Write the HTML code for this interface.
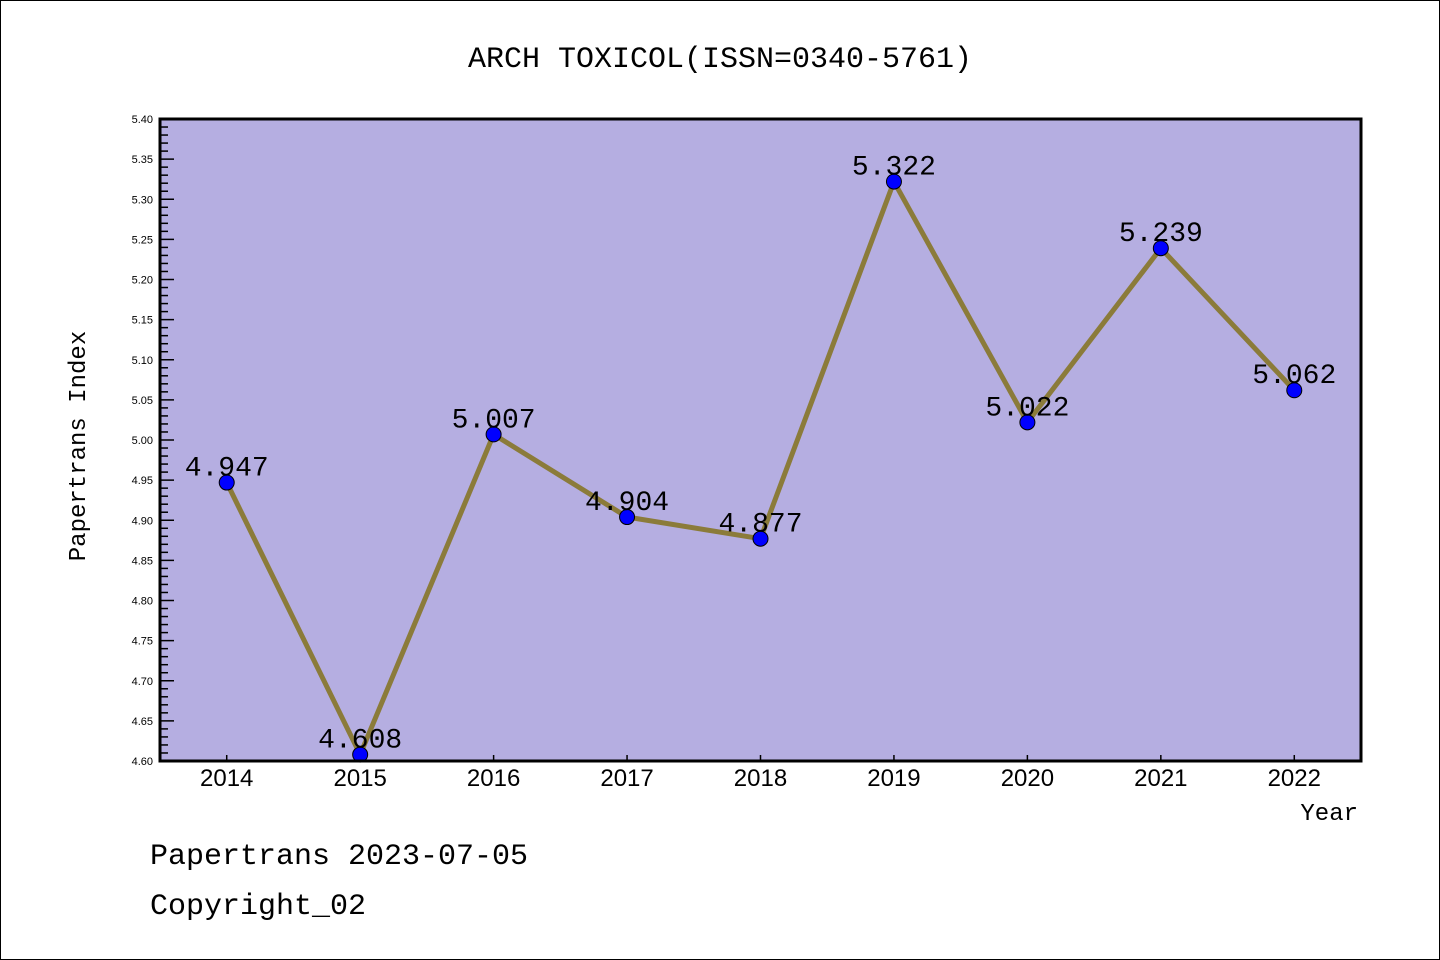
<!DOCTYPE html>
<html><head><meta charset="utf-8"><style>
body{margin:0;background:#fff;}
svg{display:block;font-family:"Liberation Sans","WenQuanYi Zen Hei",sans-serif;}
</style></head><body>
<svg id="chart" width="1440" height="960">
<rect x="0.5" y="0.5" width="1439" height="959" fill="#fff" stroke="#000"/>
<text x="720" y="67" text-anchor="middle" font-size="30" font-family="'WenQuanYi Zen Hei','Liberation Mono',monospace">ARCH TOXICOL(ISSN=0340-5761)</text>
<rect x="160" y="119" width="1201" height="642" fill="#b5aee1"/>
<g id="axes"></g>
<g id="series"></g>
<rect x="160" y="119" width="1201" height="642" fill="none" stroke="#000" stroke-width="3"/>
<text x="85" y="446" text-anchor="middle" font-size="24" transform="rotate(-90 85 446)" font-family="'WenQuanYi Zen Hei','Liberation Mono',monospace">Papertrans Index</text>
<text x="1358" y="820" text-anchor="end" font-size="24" font-family="'WenQuanYi Zen Hei','Liberation Mono',monospace">Year</text>
<text x="150" y="864" font-size="30" font-family="'WenQuanYi Zen Hei','Liberation Mono',monospace">Papertrans 2023-07-05</text>
<text x="150" y="914" font-size="30" font-family="'WenQuanYi Zen Hei','Liberation Mono',monospace">Copyright_02</text>
</svg>
<script>
const years=[2014,2015,2016,2017,2018,2019,2020,2021,2022];
const values=[4.947,4.608,5.007,4.904,4.877,5.322,5.022,5.239,5.062];
const yTicks=[4.60,4.65,4.70,4.75,4.80,4.85,4.90,4.95,5.00,5.05,5.10,5.15,5.20,5.25,5.30,5.35,5.40];
const NS="http://www.w3.org/2000/svg";
const L=160,R=1361,T=119,B=761,ymin=4.6,ymax=5.4,xmin=2013.5,xmax=2022.5;
function xs(v){return L+(v-xmin)/(xmax-xmin)*(R-L);}
function ys(v){return B-(v-ymin)/(ymax-ymin)*(B-T);}
function mk(tag,attrs,parent){const e=document.createElementNS(NS,tag);for(const k in attrs)e.setAttribute(k,attrs[k]);parent.appendChild(e);return e;}
const ax=document.getElementById('axes'),sr=document.getElementById('series');
for(let i=0;i<=80;i++){
  const v=ymin+i*0.01;const y=ys(v);const major=i%5===0;
  const t=mk('line',{x1:L,x2:L+(major?14:8),y1:y,y2:y,stroke:'#000','stroke-width':1.5},ax);
  
  
}
yTicks.forEach(v=>{
  const t=mk('text',{x:L-7,y:ys(v)+4,'text-anchor':'end','font-size':11},ax);
  t.textContent=v.toFixed(2);
  
  
});
years.forEach(yr=>{
  const x=xs(yr);
  const t=mk('line',{x1:x,x2:x,y1:B,y2:B-6,stroke:'#000','stroke-width':1.5},ax);
  
  
  const l=mk('text',{x:x,y:B+25,'text-anchor':'middle','font-size':24},ax);
  l.textContent=yr;
  
  
});
const pl=mk('polyline',{points:years.map((yr,i)=>xs(yr)+','+ys(values[i])).join(' '),fill:'none',stroke:'#8b7b3a','stroke-width':5,'stroke-linejoin':'round'},sr);


years.forEach((yr,i)=>{
  const c=mk('circle',{cx:xs(yr),cy:ys(values[i]),r:7.5,fill:'#0000ff',stroke:'#000','stroke-width':1},sr);
  
  
  const t=mk('text',{x:xs(yr),y:ys(values[i])-7,'text-anchor':'middle','font-size':28,'font-family':"'WenQuanYi Zen Hei','Liberation Mono',monospace"},sr);
  t.textContent=values[i].toFixed(3);
  
  
});
</script>
</body></html>
